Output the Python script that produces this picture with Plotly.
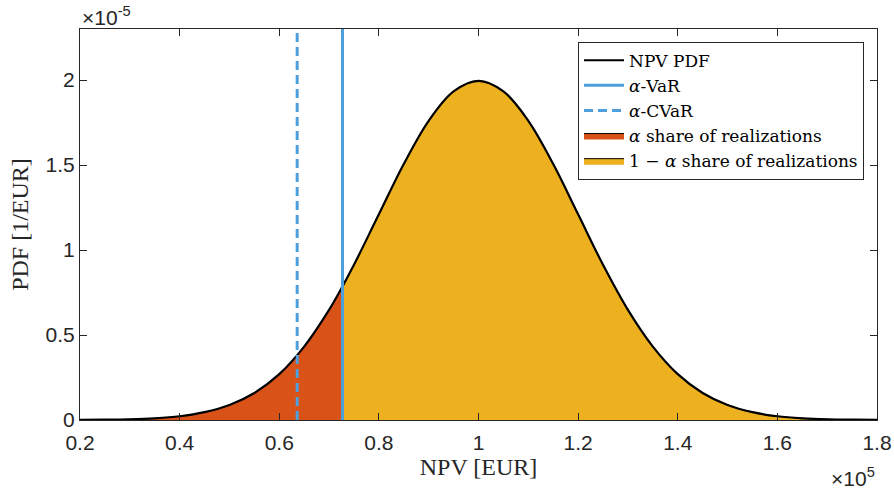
import plotly.graph_objects as go

# NPV axis in units of 1e5 EUR, PDF in units of 1e-5 1/EUR
npv = [0.20, 0.25, 0.30, 0.35, 0.40, 0.45, 0.50, 0.55, 0.60, 0.65, 0.70, 0.727,
       0.75, 0.80, 0.85, 0.90, 0.95, 1.00, 1.05, 1.10, 1.15, 1.20, 1.25, 1.30,
       1.35, 1.40, 1.45, 1.50, 1.55, 1.60, 1.65, 1.70, 1.75, 1.80]
pdf = [0.001, 0.002, 0.004, 0.010, 0.022, 0.046, 0.088, 0.159, 0.270, 0.432, 0.648, 0.786,
       0.913, 1.210, 1.506, 1.760, 1.933, 1.995, 1.933, 1.760, 1.506, 1.210, 0.913, 0.648,
       0.432, 0.270, 0.159, 0.088, 0.046, 0.022, 0.010, 0.004, 0.002, 0.001]

var_npv = 0.727    # alpha-VaR
cvar_npv = 0.636   # alpha-CVaR

x_ticks = [0.2, 0.4, 0.6, 0.8, 1.0, 1.2, 1.4, 1.6, 1.8]
x_ticktext = ["0.2", "0.4", "0.6", "0.8", "1", "1.2", "1.4", "1.6", "1.8"]
y_ticks = [0, 0.5, 1, 1.5, 2]
y_ticktext = ["0", "0.5", "1", "1.5", "2"]

Y_MAX = 2.3
BLUE = "#4DA0DC"
RED = "#D95319"
YELLOW = "#EDB120"
AXIS = "#262626"
SERIF = "Liberation Serif"
LEGEND_SERIF = "DejaVu Serif"
SANS = "Liberation Sans"

lo_x = [x for x in npv if x <= var_npv]
lo_y = [y for x, y in zip(npv, pdf) if x <= var_npv]
hi_x = [x for x in npv if x >= var_npv]
hi_y = [y for x, y in zip(npv, pdf) if x >= var_npv]

fig = go.Figure()

fig.add_trace(go.Scatter(
    x=lo_x, y=lo_y, mode="lines", fill="tozeroy", fillcolor=RED,
    line=dict(color="black", width=1, shape="spline"),
    name="<i>α</i> share of realizations", legendrank=4))
fig.add_trace(go.Scatter(
    x=hi_x, y=hi_y, mode="lines", fill="tozeroy", fillcolor=YELLOW,
    line=dict(color="black", width=1, shape="spline"),
    name="1 − <i>α</i> share of realizations", legendrank=5))
fig.add_trace(go.Scatter(
    x=npv, y=pdf, mode="lines",
    line=dict(color="black", width=2.2, shape="spline"),
    name="NPV PDF", legendrank=1))
fig.add_trace(go.Scatter(
    x=[var_npv, var_npv], y=[0, Y_MAX], mode="lines",
    line=dict(color=BLUE, width=3),
    name="<i>α</i>-VaR", legendrank=2))
fig.add_trace(go.Scatter(
    x=[cvar_npv, cvar_npv], y=[0, Y_MAX], mode="lines",
    line=dict(color=BLUE, width=3, dash="9px,5px"),
    name="<i>α</i>-CVaR", legendrank=3))

axis_common = dict(
    showline=True, linecolor=AXIS, linewidth=1, mirror="ticks",
    ticks="inside", ticklen=7, tickcolor=AXIS, tickwidth=1,
    showgrid=False, zeroline=False, automargin=False,
    tickfont=dict(family=SANS, size=21, color=AXIS),
)

fig.update_layout(
    width=894, height=492,
    margin=dict(l=80, r=17, t=29, b=72),
    paper_bgcolor="white", plot_bgcolor="white",
    xaxis=dict(range=[0.2, 1.8], tickvals=x_ticks, ticktext=x_ticktext,
               ticklabelstandoff=4,
               title=dict(text="NPV [EUR]", font=dict(family=SERIF, size=24, color=AXIS),
                          standoff=2),
               **axis_common),
    yaxis=dict(range=[0, Y_MAX], tickvals=y_ticks, ticktext=y_ticktext,
               title=dict(text="PDF [1/EUR]", font=dict(family=SERIF, size=24, color=AXIS),
                          standoff=10),
               **axis_common),
    legend=dict(x=0.9837, xanchor="right", y=0.9675, yanchor="top",
                bgcolor="white", bordercolor=AXIS, borderwidth=1,
                font=dict(family=LEGEND_SERIF, size=17, color="black"),
                tracegroupgap=0, itemwidth=40),
    showlegend=True,
    annotations=[
        dict(text="×10<sup>-5</sup>", xref="paper", yref="paper", x=0, y=1,
             xanchor="left", yanchor="bottom", showarrow=False,
             font=dict(family=SANS, size=21, color=AXIS), yshift=-2),
        dict(text="×10<sup>5</sup>", xref="paper", yref="paper", x=1, y=0,
             xanchor="right", yanchor="top", showarrow=False,
             font=dict(family=SANS, size=21, color=AXIS), yshift=-42),
    ],
)

fig.write_html("out.html")
